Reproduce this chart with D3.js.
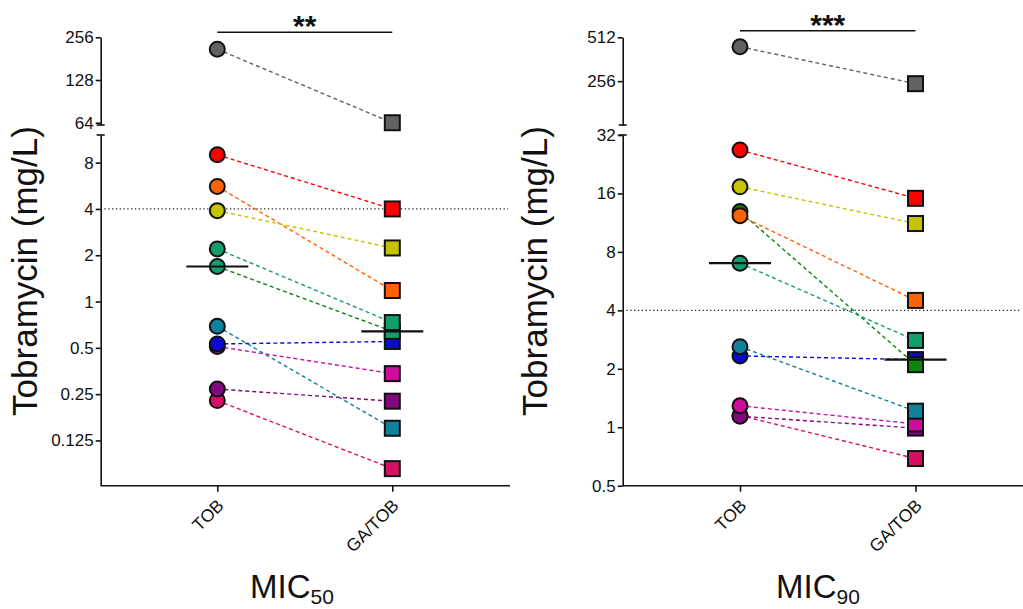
<!DOCTYPE html>
<html>
<head>
<meta charset="utf-8">
<script src="https://cdn.jsdelivr.net/npm/d3@7"></script>
<style>
body { margin: 0; background: #fff; }
svg text { font-family: "Liberation Sans", Arial, sans-serif; fill: #111; }
</style>
</head>
<body>
<svg id="chart" width="1023" height="609"></svg>
<script>
// data, isolates listed in drawing order (later ones sit on top)
const groups = ["TOB", "GA/TOB"];
const isolates = ["crimson", "purple", "magenta", "blue", "teal", "green", "seagreen", "gray", "red", "orange", "yellow"];

const mic50Tob = [0.227, 0.27, 0.51, 0.53, 0.69, 1.69, 2.2, 211, 9.0, 5.6, 3.9];
const mic50Ga  = [0.082, 0.225, 0.34, 0.55, 0.15, 0.64, 0.73, 64, 4, 1.18, 2.23];
const mic90Tob = [1.15, 1.14, 1.29, 2.33, 2.6, 12.9, 7.0, 441, 26.8, 12.3, 17.3];
const mic90Ga  = [0.69, 0.99, 1.04, 2.23, 1.21, 2.1, 2.8, 246, 15.1, 4.5, 11.2];

const ticks50Upper = [64, 128, 256];
const ticks50Lower = [0.125, 0.25, 0.5, 1, 2, 4, 8];
const ticks90Upper = [256, 512];
const ticks90Lower = [0.5, 1, 2, 4, 8, 16, 32];

const breakpoint = 4;   // dotted reference line

const colors = {
    crimson: "#d70f62", purple: "#82087e", magenta: "#cf0d9c", blue: "#0b0bd2",
    teal: "#11819a", green: "#0b860f", seagreen: "#139f6c", gray: "#626262",
    red: "#ff0000", orange: "#ff6200", yellow: "#c6c300"
}

const svg = d3.select("#chart")

function drawPanel(p) {
    const g = svg.append("g")
    const x = d3.scalePoint().domain(groups).range(p.xRange)
    const yLow = d3.scaleLog().base(2).domain(p.lowDomain).range([485.7, 135])
    const yUp = d3.scaleLog().base(2).domain(p.upDomain).range([125, 37.3])
    const y = v => v > p.lowDomain[1] ? yUp(v) : yLow(v)

    // y axis, two segments
    const styleAxis = sel => {
        sel.selectAll("path, line").attr("stroke", "#111").attr("stroke-width", 1.6)
        sel.selectAll("text").attr("font-size", 17).attr("x", -7)
    }
    g.append("g").attr("transform", `translate(${p.axisX},0)`)
        .call(d3.axisLeft(yUp).tickValues(p.upTicks).tickFormat(d => d).tickSize(5).tickSizeOuter(0))
        .call(styleAxis)
    g.append("g").attr("transform", `translate(${p.axisX},0)`)
        .call(d3.axisLeft(yLow).tickValues(p.lowTicks).tickFormat(d => d).tickSize(5).tickSizeOuter(0))
        .call(styleAxis)
    // break caps
    ;[125, 135].forEach(cy => {
        g.append("line").attr("x1", p.axisX - 4).attr("x2", p.axisX + 4)
            .attr("y1", cy).attr("y2", cy).attr("stroke", "#111").attr("stroke-width", 1.6)
    })

    // x axis
    g.append("line").attr("x1", p.axisX).attr("x2", p.xEnd).attr("y1", 485.7).attr("y2", 485.7)
        .attr("stroke", "#111").attr("stroke-width", 1.6)
    const xAxis = g.append("g").attr("transform", "translate(0,485.7)")
        .call(d3.axisBottom(x).tickSize(6).tickSizeOuter(0))
    xAxis.select(".domain").remove()
    xAxis.selectAll("line").attr("stroke", "#111").attr("stroke-width", 1.6)
    xAxis.selectAll("text")
        .attr("font-size", 17.5).attr("y", 0).attr("dy", 0)
        .attr("transform", "translate(7,21) rotate(-45)")
        .style("text-anchor", "end")

    // dotted line at 4 mg/L
    g.append("line").attr("x1", p.axisX).attr("x2", p.xEnd - 2)
        .attr("y1", y(breakpoint)).attr("y2", y(breakpoint))
        .attr("stroke", "#222").attr("stroke-width", 1.3).attr("stroke-dasharray", "1.3,2.5")

    // paired lines
    g.selectAll(".pair").data(isolates).join("line")
        .attr("x1", x("TOB")).attr("y1", (d, i) => y(p.tob[i]))
        .attr("x2", x("GA/TOB")).attr("y2", (d, i) => y(p.ga[i]))
        .attr("stroke", d => colors[d]).attr("stroke-width", 1.4)
        .attr("stroke-dasharray", "4,3")

    g.selectAll(".tob").data(isolates).join("circle")
        .attr("cx", x("TOB")).attr("cy", (d, i) => y(p.tob[i])).attr("r", 7.5)
        .attr("fill", d => (p.fill && p.fill[d]) || colors[d])
        .attr("stroke", "#111").attr("stroke-width", 2)

    g.selectAll(".ga").data(isolates).join("rect")
        .attr("x", x("GA/TOB") - 7.5).attr("y", (d, i) => y(p.ga[i]) - 7.5)
        .attr("width", 15).attr("height", 15)
        .attr("fill", d => (p.fill && p.fill[d]) || colors[d])
        .attr("stroke", "#111").attr("stroke-width", 2)

    // medians
    ;[["TOB", p.tob], ["GA/TOB", p.ga]].forEach(([k, vals]) => {
        const m = d3.median(vals)
        g.append("line").attr("x1", x(k) - 31).attr("x2", x(k) + 31)
            .attr("y1", y(m)).attr("y2", y(m)).attr("stroke", "#111").attr("stroke-width", 2.2)
    })

    // significance bar
    g.append("line").attr("x1", x("TOB")).attr("x2", x("GA/TOB"))
        .attr("y1", p.barY).attr("y2", p.barY).attr("stroke", "#111").attr("stroke-width", 1.6)
    g.append("text").attr("x", (x("TOB") + x("GA/TOB")) / 2).attr("y", p.barY + 4)
        .attr("text-anchor", "middle").attr("font-size", 30).attr("font-weight", "bold")
        .text(p.stars)

    // titles
    g.append("text").attr("transform", `translate(${p.titleX},271) rotate(-90)`)
        .attr("text-anchor", "middle").attr("font-size", 35).text("Tobramycin (mg/L)")
    const t = g.append("text").attr("x", p.labelX).attr("y", 598)
        .attr("text-anchor", "middle").attr("font-size", 33)
    t.append("tspan").text("MIC")
    t.append("tspan").attr("font-size", 21).attr("dy", 6).text(p.sub)
}

drawPanel({
    tob: mic50Tob, ga: mic50Ga,
    upDomain: [61.7, 256], lowDomain: [0.0635, 12.1],
    upTicks: ticks50Upper, lowTicks: ticks50Lower,
    axisX: 100.7, xEnd: 510, xRange: [217.3, 392.3],
    barY: 32.3, stars: "**", titleX: 37, labelX: 292, sub: "50",
    fill: { green: colors.seagreen }
})
drawPanel({
    tob: mic90Tob, ga: mic90Ga,
    upDomain: [128, 512], lowDomain: [0.5, 32],
    upTicks: ticks90Upper, lowTicks: ticks90Lower,
    axisX: 622.7, xEnd: 1023, xRange: [740, 915.5],
    barY: 30.7, stars: "***", titleX: 547, labelX: 818, sub: "90"
})
</script>
</body>
</html>
